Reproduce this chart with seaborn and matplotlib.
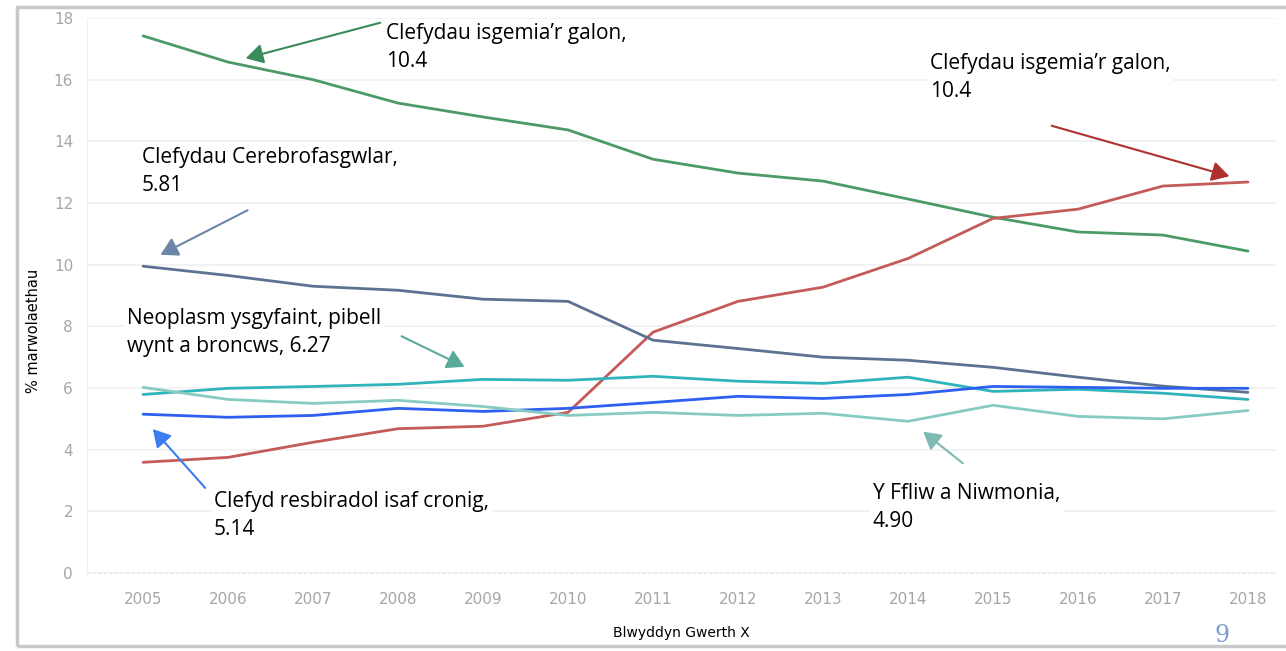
import pandas as pd
import numpy as np
import matplotlib.pyplot as plt
import seaborn as sns
from matplotlib.patches import Rectangle, FancyArrowPatch

sns.set_style('white')

years = list(range(2005, 2019))

ischaemic = [17.42, 16.57, 16.0, 15.24, 14.79, 14.37, 13.42, 12.97, 12.71, 12.13, 11.54, 11.06, 10.96, 10.44]
lung_cancer = [3.59, 3.75, 4.24, 4.68, 4.76, 5.21, 7.81, 8.81, 9.27, 10.2, 11.5, 11.8, 12.55, 12.68]
cerebro = [9.95, 9.65, 9.3, 9.17, 8.88, 8.81, 7.55, 7.28, 7.0, 6.9, 6.67, 6.35, 6.06, 5.86]
neoplasm = [5.79, 5.99, 6.05, 6.12, 6.28, 6.25, 6.38, 6.22, 6.15, 6.35, 5.89, 5.96, 5.83, 5.63]
copd = [5.15, 5.05, 5.11, 5.34, 5.24, 5.34, 5.53, 5.73, 5.66, 5.79, 6.05, 6.02, 5.99, 5.99]
flu = [6.02, 5.63, 5.5, 5.6, 5.4, 5.11, 5.21, 5.11, 5.18, 4.92, 5.44, 5.08, 5.0, 5.27]

series = {
    'ischaemic': ischaemic,
    'lung_cancer': lung_cancer,
    'cerebro': cerebro,
    'neoplasm': neoplasm,
    'copd': copd,
    'flu': flu,
}
colours = {
    'ischaemic': '#4b9a68',
    'lung_cancer': '#c45a5a',
    'cerebro': '#5d7292',
    'neoplasm': '#2fb4bc',
    'copd': '#2d5ff0',
    'flu': '#86cbc2',
}

df = pd.concat([pd.DataFrame({'year': years, 'value': v, 'cause': k}) for k, v in series.items()])

W, H = 1286, 651
fig = plt.figure(figsize=(W / 100, H / 100), dpi=100)

# page frame
fig.patches.append(Rectangle((17 / W, 1 - 646 / H), 1.1, (646 - 7) / H, transform=fig.transFigure,
                             fill=False, edgecolor='#c8c8c8', lw=2.5, zorder=0))

ax = fig.add_axes([87 / W, 1 - 573 / H, (1276 - 87) / W, (573 - 18) / H])
sns.lineplot(data=df, x='year', y='value', hue='cause', palette=colours, lw=2, legend=False, ax=ax)

ax.set_xlim(2004.34, 2018.33)
ax.set_ylim(0, 18)
ax.set_xticks(years)
ax.set_yticks(range(0, 19, 2))
ax.grid(axis='y', color='#f0f0f0', lw=1.2)
ax.tick_params(colors='#a6a6a6', labelsize=11, length=0, pad=10)
ax.tick_params(axis='x', pad=14)
for s in ['top', 'right']:
    ax.spines[s].set_visible(False)
ax.spines['left'].set_color('#f0f0f0')
ax.spines['bottom'].set_color('#e6e6e6')
ax.spines['bottom'].set_linestyle((0, (2, 3)))
ax.set_xlabel('Blwyddyn Gwerth X', fontsize=10, color='black', labelpad=13)
ax.set_ylabel('% marwolaethau', fontsize=10.5, color='black')
ax.yaxis.set_label_coords(-0.039, 0.437)


def fp(x, y):
    return (x / W, 1 - y / H)


labels = [
    ('Clefydau isgemia\u2019r galon,\n10.4', 386, 23),
    ('Clefydau isgemia\u2019r galon,\n10.4', 930, 53),
    ('Clefydau Cerebrofasgwlar,\n5.81', 142, 147),
    ('Neoplasm ysgyfaint, pibell\nwynt a broncws, 6.27', 127, 308),
    ('Clefyd resbiradol isaf cronig,\n5.14', 214, 491),
    ('Y Ffliw a Niwmonia,\n4.90', 873, 483),
]
for txt, x, y in labels:
    fig.text(*fp(x, y), txt, ha='left', va='top', fontsize=15, family='Open Sans', color='black',
             linespacing=1.45, bbox=dict(facecolor='white', edgecolor='none', pad=2))

arrows = [
    ((383, 22), (243, 59), '#3a8c5c'),
    ((1049, 125), (1232, 177), '#b03030'),
    ((250, 209), (158, 256), '#6b86a8'),
    ((399, 335), (467, 368), '#5aaa9c'),
    ((207, 490), (151, 427), '#3b7cf2'),
    ((965, 465), (921, 430), '#7dbab2'),
]
for (x0, y0), (x1, y1), c in arrows:
    fig.add_artist(FancyArrowPatch(
        fp(x0, y0), fp(x1, y1), transform=fig.transFigure, arrowstyle='-|>,head_length=7,head_width=4',
        color=c, lw=1.5, mutation_scale=1.5))

fig.text(*fp(1222, 636), '9', fontsize=17, family='DejaVu Serif', color='#7f9fd0', ha='center', va='center')

plt.savefig('out.png', dpi=100)
